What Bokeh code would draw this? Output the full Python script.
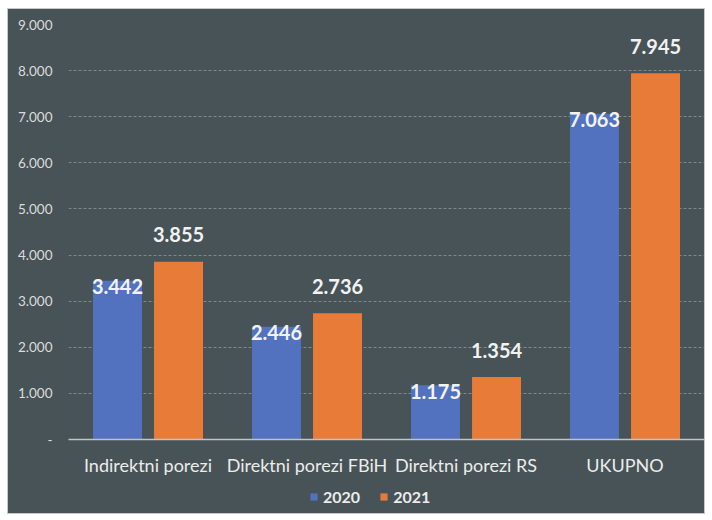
from bokeh.plotting import figure
from bokeh.models import FactorRange, FixedTicker, Legend, LegendItem, ColumnDataSource, Range1d
from bokeh.layouts import column
from bokeh.transform import dodge
from bokeh.embed import file_html
from bokeh.resources import INLINE
from bokeh.core.properties import value

categories = ["Indirektni porezi", "Direktni porezi FBiH", "Direktni porezi RS", "UKUPNO"]
values_2020 = [3442, 2446, 1175, 7063]
values_2021 = [3855, 2736, 1354, 7945]
series_names = ["2020", "2021"]
y_ticks = [0, 1000, 2000, 3000, 4000, 5000, 6000, 7000, 8000, 9000]

def fmt(v):
    return f"{v:,}".replace(",", ".")

tick_labels = {t: ("-" if t == 0 else fmt(t)) for t in y_ticks}

src = ColumnDataSource(dict(
    cat=categories,
    v20=values_2020,
    v21=values_2021,
    l20=[fmt(v) for v in values_2020],
    l21=[fmt(v) for v in values_2021],
))

BG = "#475356"
BLUE = "#5272bf"
ORANGE = "#e87b38"
FONT = "Lato"

p = figure(x_range=FactorRange(*categories, range_padding=0), y_range=Range1d(0, 9000),
           width=696, height=470, output_backend="svg", toolbar_location=None,
           min_border_left=60, min_border_right=0, min_border_top=15, min_border_bottom=40)
p.x_range.range_padding = 0
p.background_fill_color = BG
p.border_fill_color = BG
p.outline_line_color = None

r20 = p.vbar(x=dodge("cat", -0.192, range=p.x_range), top="v20", width=0.308, source=src,
             fill_color=BLUE, line_color=None)
r21 = p.vbar(x=dodge("cat", 0.192, range=p.x_range), top="v21", width=0.308, source=src,
             fill_color=ORANGE, line_color=None)

p.text(x=dodge("cat", -0.192, range=p.x_range), y="v20", text="l20", source=src,
       text_align="center", text_baseline="middle", y_offset=6,
       text_font=value(FONT), text_font_style="bold", text_font_size="20px", text_color="#f2f2f2")
p.text(x=dodge("cat", 0.192, range=p.x_range), y="v21", text="l21", source=src,
       text_align="center", text_baseline="middle", y_offset=-27,
       text_font=value(FONT), text_font_style="bold", text_font_size="20px", text_color="#f2f2f2")

# axes
p.yaxis.ticker = FixedTicker(ticks=y_ticks)
p.yaxis.major_label_overrides = tick_labels
p.yaxis.axis_line_color = None
p.yaxis.major_tick_line_color = None
p.yaxis.major_tick_out = 0
p.yaxis.major_tick_in = 0
p.yaxis.minor_tick_line_color = None
p.yaxis.major_label_text_font = FONT
p.yaxis.major_label_text_font_size = "13.5px"
p.yaxis.major_label_text_color = "#dcdcdc"
p.yaxis.major_label_standoff = 16

p.xaxis.axis_line_color = "#bfc4c4"
p.xaxis.axis_line_width = 1.5
p.xaxis.major_tick_line_color = None
p.xaxis.major_tick_out = 0
p.xaxis.major_tick_in = 0
p.xaxis.minor_tick_line_color = None
p.xaxis.major_label_text_font = FONT
p.xaxis.major_label_text_font_size = "18px"
p.xaxis.major_label_text_color = "#ececec"
p.xaxis.major_label_standoff = 14

p.xgrid.grid_line_color = None
p.ygrid.grid_line_color = "#7e898a"
p.ygrid.grid_line_dash = "3 2"
p.ygrid.grid_line_width = 1

# legend strip (proxy renderers drawn from the same data, outside the visible range)
lg = figure(width=696, height=34, output_backend="svg", toolbar_location=None,
            x_range=Range1d(0, 1), y_range=Range1d(0, 1),
            min_border=0)
lg.axis.visible = False
lg.grid.visible = False
lg.outline_line_color = None
lg.background_fill_color = BG
lg.border_fill_color = BG
g20 = lg.vbar(x="v20", top="v20", width=1, source=src, fill_color=BLUE, line_color=None)
g21 = lg.vbar(x="v21", top="v21", width=1, source=src, fill_color=ORANGE, line_color=None)
legend = Legend(items=[LegendItem(label=series_names[0], renderers=[g20]),
                       LegendItem(label=series_names[1], renderers=[g21])],
                orientation="horizontal", location=(241, 7),
                background_fill_alpha=0, border_line_color=None,
                label_text_font=FONT, label_text_font_size="16px", label_text_font_style="bold",
                label_text_color="#ececec", glyph_width=9, glyph_height=9,
                spacing=19, label_standoff=5, padding=0, margin=0)
lg.add_layout(legend)

layout = column(p, lg, spacing=0,
                styles={"margin-left": "7px", "margin-top": "8px",
                        "border": "1px solid #c8c8c8", "background-color": BG})

open("out.html", "w").write(file_html(layout, INLINE))
